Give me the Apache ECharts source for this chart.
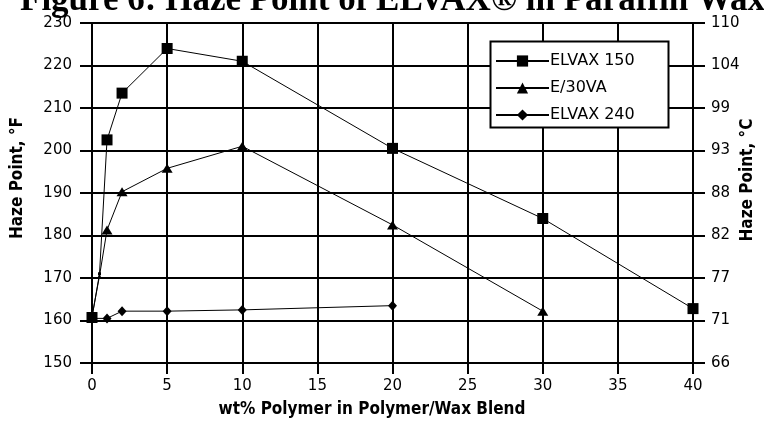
<!DOCTYPE html>
<html><head><meta charset="utf-8">
<script src="https://cdn.jsdelivr.net/npm/echarts@6/dist/echarts.min.js"></script>
<style>html,body{margin:0;padding:0;background:#fff}#c{width:764px;height:421px}</style>
</head><body><div id="c"></div>
<script>
const seriesNames = ['ELVAX 150', 'E/30VA', 'ELVAX 240'];
const xElvax150 = [0, 0.5, 1, 2, 5, 10, 20, 30, 40];
const yElvax150 = [160.7, 171, 202.5, 213.5, 224, 221, 200.5, 184, 162.8];
const xE30VA = [0, 0.5, 1, 2, 5, 10, 20, 30];
const yE30VA = [161, 170.5, 181.3, 190.3, 195.8, 201, 182.5, 162.2];
const xElvax240 = [0, 1, 2, 5, 10, 20];
const yElvax240 = [160.5, 160.5, 162.2, 162.2, 162.5, 163.5];
const xTicks = [0, 5, 10, 15, 20, 25, 30, 35, 40];
const fTicks = [150, 160, 170, 180, 190, 200, 210, 220, 230];
const cTickLabels = ['66', '71', '77', '82', '88', '93', '99', '104', '110'];
const titleText = 'Figure 6: Haze Point of ELVAX® in Paraffin Wax';
const xName = 'wt% Polymer in Polymer/Wax Blend';
const yLeftName = 'Haze Point, °F';
const yRightName = 'Haze Point, °C';

const pair = (xs, ys) => xs.map((x, i) => [x, ys[i]]);
const condBold = 'bold 17px "DejaVu Sans Condensed", "Liberation Sans Narrow", "DejaVu Sans"';
const lab = {color: '#000', fontFamily: 'DejaVu Sans', fontSize: 15};
const axisLine = {show: true, lineStyle: {color: '#000', width: 2}};
const tick = {show: true, length: 12, lineStyle: {color: '#000', width: 2}};
const split = {show: true, lineStyle: {color: '#000', width: 2}};

const chart = echarts.init(document.getElementById('c'), null, {renderer: 'canvas'});
chart.setOption({
  animation: false,
  backgroundColor: '#fff',
  grid: {left: 92, right: 71, top: 23, bottom: 58, containLabel: false},
  xAxis: {
    type: 'value', min: xTicks[0], max: xTicks[xTicks.length - 1], interval: 5,
    axisLine: axisLine, axisTick: {show: true, length: 11, lineStyle: {color: '#000', width: 2}},
    splitLine: split,
    axisLabel: Object.assign({margin: 16}, lab)
  },
  yAxis: [{
    type: 'value', min: fTicks[0], max: fTicks[fTicks.length - 1], interval: 10, position: 'left',
    axisLine: axisLine, axisTick: tick, splitLine: split,
    axisLabel: Object.assign({margin: 20}, lab)
  }, {
    type: 'value', min: fTicks[0], max: fTicks[fTicks.length - 1], interval: 10, position: 'right',
    axisLine: axisLine, axisTick: tick, splitLine: {show: false},
    axisLabel: Object.assign({margin: 18, formatter: v => cTickLabels[fTicks.indexOf(v)]}, lab)
  }],
  legend: {
    orient: 'vertical', left: 495, top: 53, itemWidth: 53, itemHeight: 14, itemGap: 11, padding: 0,
    textStyle: {color: '#000', fontFamily: 'DejaVu Sans', fontSize: 16, padding: [0, 0, 0, -4]},
    data: seriesNames, z: 10
  },
  graphic: [
    {type: 'rect', shape: {x: 490.5, y: 41.5, width: 178, height: 86}, style: {fill: '#fff', stroke: '#000', lineWidth: 2}, z: 5},
    {type: 'text', x: 20, y: 1, style: {text: titleText, font: 'bold 35px "Liberation Serif"', fill: '#000', verticalAlign: 'middle'}, z: 5},
    {type: 'text', x: 18, y: 178, rotation: Math.PI / 2, style: {text: yLeftName, font: condBold, fill: '#000', align: 'center', verticalAlign: 'middle'}},
    {type: 'text', x: 748, y: 180, rotation: Math.PI / 2, style: {text: yRightName, font: condBold, fill: '#000', align: 'center', verticalAlign: 'middle'}},
    {type: 'text', x: 372, y: 410, style: {text: xName, font: condBold, fill: '#000', align: 'center', verticalAlign: 'middle'}}
  ],
  series: [
    {name: seriesNames[0], type: 'line', data: pair(xElvax150, yElvax150), symbol: 'rect',
     symbolSize: (v, p) => p.dataIndex === 1 ? 3 : 11,
     lineStyle: {color: '#000', width: 1}, itemStyle: {color: '#000'}, z: 3},
    {name: seriesNames[1], type: 'line', data: pair(xE30VA, yE30VA), symbol: 'triangle',
     symbolSize: (v, p) => p.dataIndex === 1 ? 4 : [11, 9],
     lineStyle: {color: '#000', width: 1}, itemStyle: {color: '#000'}, z: 3},
    {name: seriesNames[2], type: 'line', data: pair(xElvax240, yElvax240), symbol: 'diamond', symbolSize: [9, 10],
     lineStyle: {color: '#000', width: 1}, itemStyle: {color: '#000'}, z: 3}
  ]
});
</script>
</body></html>
